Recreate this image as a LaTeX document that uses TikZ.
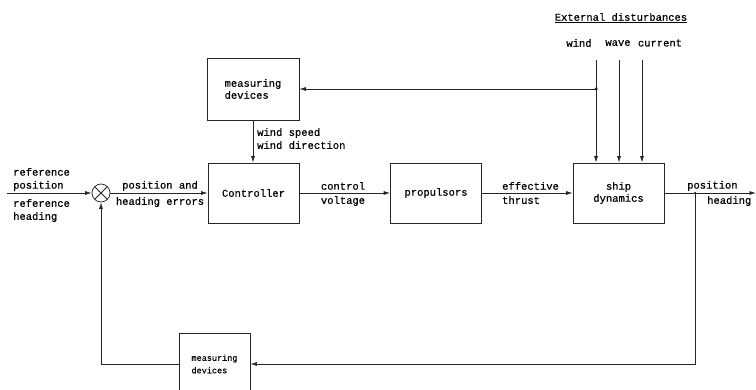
\documentclass[tikz,border=0pt]{standalone}
\usepackage{fontspec}
\setmonofont[FakeBold=0.6,AutoFakeBold=0.6]{Liberation Mono}
\usetikzlibrary{arrows.meta,calc,positioning}
\tikzset{
  dpbox/.style={draw=black!85, line width=0.75pt, minimum width=91pt, minimum height=60pt, align=left, inner sep=0pt, font=\ttfamily\fontsize{10.5}{12}\selectfont},
  dpsmallbox/.style={dpbox, minimum width=71pt, minimum height=62pt, font=\ttfamily\fontsize{8.5}{12.5}\selectfont},
  dptext/.style={inner sep=0pt, align=left, font=\ttfamily\fontsize{10.5}{13}\selectfont},
  dpline/.style={line width=0.75pt, draw=black!85},
  dparrow/.style={-{Latex[length=6.5pt,width=4pt]}, line width=0.75pt, draw=black!85},
  dpdot/.style={circle, fill=black!85, inner sep=0pt, minimum size=3.5pt},
  dpsum/.style={circle, draw=black!85, line width=0.75pt, minimum size=18pt, inner sep=0pt,
    path picture={\draw[line width=0.75pt, black!85] (path picture bounding box.north west) -- (path picture bounding box.south east)
      (path picture bounding box.north east) -- (path picture bounding box.south west);}}
}

\begin{document}
\begin{tikzpicture}[x=1pt,y=-1pt]

  \useasboundingbox (0,0) rectangle (756,390);
  \clip (0,0) rectangle (756,390);

  % blocks
  \node[dpbox, minimum width=92pt, minimum height=62pt] (measTop) at (253,89) {measuring\\devices};
  \node[dpbox, align=center] (ctrl) at (253.5,193) {Controller};
  \node[dpbox, align=center] (prop) at (436,193) {propulsors};
  \node[dpbox, align=center] (ship) at (618.5,193) {ship\\dynamics};
  \node[dpsmallbox] (measBot) at (214.5,364) {measuring\\devices};
  \node[dpsum] (sum) at (101,193) {};

  % external disturbances
  \node[dptext] (distTitle) at (621,18) {\underline{External disturbances}};
  \node[dptext] (windLbl) at (579,43) {wind};
  \node[dptext] (waveLbl) at (618,43) {wave};
  \node[dptext] (curLbl) at (660,43) {current};
  \coordinate (windtop) at (596,60);
  \coordinate (wavetop) at (619,60);
  \coordinate (curtop) at (642,60);
  \coordinate (topjoin) at (596,89);

  % free ends and branch points
  \coordinate (refin) at (7,193);
  \coordinate (outend) at (756,193);
  \coordinate (outjoin) at (695,193);

  % signal labels
  \node[dptext, anchor=south west] (refPos) at (13,191) {reference\\position};
  \node[dptext, anchor=north west] (refHead) at (13,199) {reference\\heading};
  \node[dptext, anchor=south] (errTop) at (160,191) {position and};
  \node[dptext, anchor=north] (errBot) at (160,197) {heading errors};
  \node[dptext, anchor=south] (voltTop) at (343,190) {control};
  \node[dptext, anchor=north] (voltBot) at (343,196) {voltage};
  \node[dptext, anchor=south west] (thrTop) at (502,190) {effective};
  \node[dptext, anchor=north west] (thrBot) at (502,196) {thrust};
  \node[dptext, anchor=south west] (outTop) at (687,191) {position};
  \node[dptext, anchor=north west] (outBot) at (707,196) {heading};
  \node[dptext, anchor=north west] (windMeas) at (257,128) {wind speed\\wind direction};

  % forward path
  \draw[dparrow] (refin) -- (sum.west);
  \draw[dparrow] (sum.east) -- (ctrl.west);
  \draw[dparrow] (ctrl.east) -- (prop.west);
  \draw[dparrow] (prop.east) -- (ship.west);
  \draw[dparrow] (ship.east) -- (outend);

  % disturbances and wind measurement
  \draw[dparrow] (windtop) -- (windtop |- ship.north);
  \draw[dparrow] (wavetop) -- (wavetop |- ship.north);
  \draw[dparrow] (curtop) -- (curtop |- ship.north);
  \draw[dparrow] (topjoin) -- (measTop.east);
  \draw[dparrow] (measTop.south) -- (measTop.south |- ctrl.north);
  \node[dpdot] at (topjoin) {};

  % feedback
  \draw[dparrow] (outjoin) |- (measBot.east);
  \draw[dparrow] (measBot.west) -| (sum.south);
  \node[dpdot, minimum size=2.5pt] at (outjoin) {};

\end{tikzpicture}
\end{document}
